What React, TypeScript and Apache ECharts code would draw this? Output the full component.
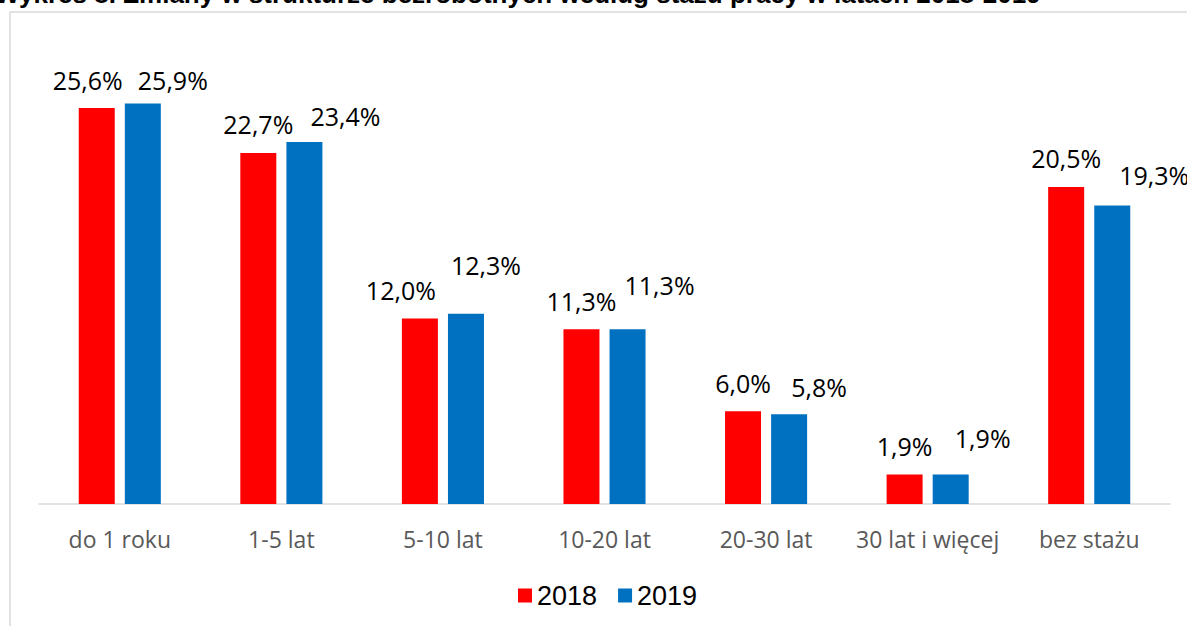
import React, { useEffect, useRef } from "react";
import * as echarts from "echarts";

const titleText = "Wykres 8. Zmiany w strukturze bezrobotnych według stażu pracy w latach 2018-2019";
const categories = ["do 1 roku", "1-5 lat", "5-10 lat", "10-20 lat", "20-30 lat", "30 lat i więcej", "bez stażu"];
const seriesNames = ["2018", "2019"];
const values2018 = [25.6, 22.7, 12.0, 11.3, 6.0, 1.9, 20.5];
const values2019 = [25.9, 23.4, 12.3, 11.3, 5.8, 1.9, 19.3];

// label placement tweaks (manual placement as in the original)
const labelShift2018: [number, number][] = [[-9, 0], [0, 0], [-19, 0], [0, 0], [0, 0], [0, 0], [0, 0]];
const labelShift2019: [number, number][] = [[30, 5], [41, 2], [20, -20], [32, -16], [30, 1], [32, -8], [42, -2]];

const fmt = (v: number) => v.toFixed(1).replace(".", ",") + "%";

export default function App() {
  const ref = useRef<HTMLDivElement>(null);
  useEffect(() => {
    document.body.style.margin = "0";
    if (!ref.current) return;
    const chart = echarts.init(ref.current, undefined, { renderer: "svg" });
    const labelStyle = {
      show: true,
      position: "top",
      distance: 16,
      fontFamily: "Open Sans",
      fontSize: 25,
      lineHeight: 25,
      color: "#000000",
      formatter: (p: any) => fmt(p.value),
    };
    const mk = (vals: number[], shifts: [number, number][]) =>
      vals.map((v, i) => ({ value: v, label: { offset: shifts[i] } }));
    chart.setOption({
      animation: false,
      graphic: [
        {
          type: "rect",
          shape: { x: 10, y: 12, width: 1400, height: 800 },
          style: { fill: "none", stroke: "#d9d9d9", lineWidth: 1.5 },
          z: -1,
        },
        {
          type: "text",
          x: -5,
          y: -6,
          style: {
            text: titleText,
            fontFamily: "Liberation Sans",
            fontWeight: "bold",
            fontSize: 26,
            fill: "#000000",
            verticalAlign: "middle",
            align: "left",
          },
        },
      ],
      legend: {
        data: seriesNames,
        left: 513,
        top: 577,
        icon: "rect",
        itemWidth: 14,
        itemHeight: 14,
        itemGap: 21,
        textStyle: { fontFamily: "Liberation Sans", fontSize: 27, color: "#000000" },
      },
      grid: { left: 39, right: 17, top: 40, bottom: 122 },
      xAxis: {
        type: "category",
        data: categories,
        axisLine: { lineStyle: { color: "#d9d9d9", width: 1.5 } },
        axisTick: { show: false },
        axisLabel: {
          fontFamily: "Open Sans",
          fontSize: 23,
          lineHeight: 23,
          color: "#595959",
          margin: 23,
          interval: 0,
        },
      },
      yAxis: {
        type: "value",
        min: 0,
        max: 30,
        show: false,
        splitLine: { show: false },
      },
      series: [
        {
          name: seriesNames[0],
          type: "bar",
          barWidth: 36,
          barGap: "28%",
          itemStyle: { color: "#FF0000" },
          label: labelStyle,
          data: mk(values2018, labelShift2018),
        },
        {
          name: seriesNames[1],
          type: "bar",
          barWidth: 36,
          barGap: "28%",
          itemStyle: { color: "#0070C0" },
          label: labelStyle,
          data: mk(values2019, labelShift2019),
        },
      ],
    });
    return () => chart.dispose();
  }, []);
  return <div ref={ref} style={{ width: 1187, height: 626 }} />;
}
